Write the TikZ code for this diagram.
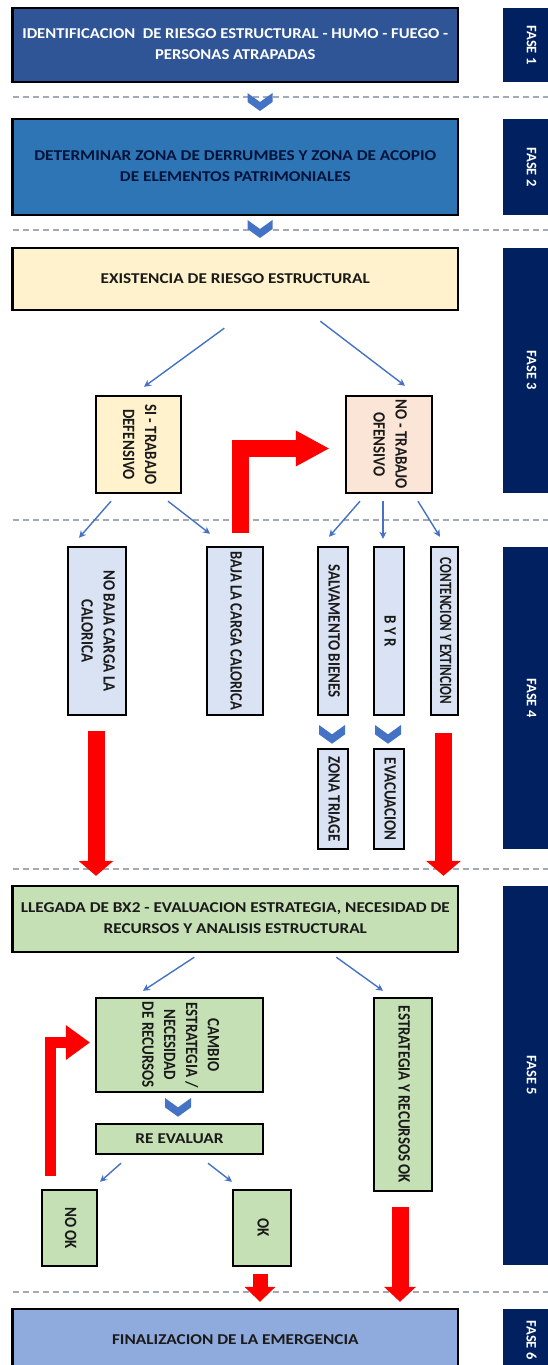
\documentclass[tikz,border=0pt]{standalone}
\usepackage{fontspec}
\setmainfont{Carlito}
\usetikzlibrary{arrows.meta,calc}
\definecolor{fasenavy}{HTML}{002060}
\definecolor{darkbox}{HTML}{2F5597}
\definecolor{midbox}{HTML}{2E75B6}
\definecolor{yelbox}{HTML}{FFF2CC}
\definecolor{peachbox}{HTML}{FBE5D6}
\definecolor{greybox}{HTML}{DAE3F3}
\definecolor{greenbox}{HTML}{C5E0B4}
\definecolor{endbox}{HTML}{8FAADC}
\definecolor{linkblue}{HTML}{4472C4}
\definecolor{sepgrey}{HTML}{A3A9B5}
\definecolor{txt}{HTML}{1A1A1A}
\newcommand\hlab[2][1.15]{\scalebox{#1}[1]{\begin{tabular}{@{}c@{}}#2\end{tabular}}}
\newcommand\vlab[2][1]{\rotatebox{-90}{\scalebox{#1}[1.15]{\begin{tabular}{@{}c@{}}#2\end{tabular}}}}

\begin{document}
\begin{tikzpicture}[x=1pt,y=-1pt,
  box/.style={draw=black,line width=2.4pt,inner sep=0pt,align=center,
    text=txt,font=\bfseries\fontsize{15}{21}\selectfont},
  vbox/.style={box,font=\bfseries\fontsize{15}{19}\selectfont},
  fase/.style={fill=fasenavy,inner sep=0pt,text=white,
    font=\bfseries\fontsize{14.5}{16}\selectfont},
  conn/.style={draw=linkblue,line width=1.4pt,-{Stealth[length=7pt,width=7pt]}},
  redarr/.style={draw=red,line width=17pt},
  sep/.style={draw=sepgrey,line width=1.3pt,dash pattern=on 6pt off 4pt},
  chevc/.style={fill=linkblue}]
	\useasboundingbox (0,0) rectangle (548,1365);
	\def\chev(#1,#2)#3{\fill[chevc] (#1-#3/2,#2) -- (#1,#2+#3*0.36) -- (#1+#3/2,#2)
		-- (#1+#3/2,#2+#3*0.36) -- (#1,#2+#3*0.72) -- (#1-#3/2,#2+#3*0.36) -- cycle;}
	\def\wide{445.4}

	% separators between the phases
	\foreach \y in {97,230,520,869,1292}
		\draw[sep] (12.6,\y) -- (548,\y);

	% phase labels
	\node[fase,minimum width=57pt,minimum height=74pt]  (f1) at (531.5,45)    {\rotatebox{-90}{FASE 1}};
	\node[fase,minimum width=57pt,minimum height=96pt]  (f2) at (531.5,167)   {\rotatebox{-90}{FASE 2}};
	\node[fase,minimum width=57pt,minimum height=245pt] (f3) at (531.5,370.5) {\rotatebox{-90}{FASE 3}};
	\node[fase,minimum width=57pt,minimum height=302pt] (f4) at (531.5,698)   {\rotatebox{-90}{FASE 4}};
	\node[fase,minimum width=57pt,minimum height=379pt] (f5) at (531.5,1075.5){\rotatebox{-90}{FASE 5}};
	\node[fase,minimum width=57pt,minimum height=62pt]  (f6) at (531.5,1340)  {\rotatebox{-90}{FASE 6}};

	% phase 1 - 3
	\node[box,fill=darkbox,text=white,minimum width=\wide pt,minimum height=74pt] (ident) at (235.3,45)
		{\hlab[1.11]{IDENTIFICACION \ DE RIESGO ESTRUCTURAL - HUMO - FUEGO -\\PERSONAS ATRAPADAS}};
	\node[box,fill=midbox,text=fasenavy!60!black,minimum width=\wide pt,minimum height=96pt] (zona) at (235.3,167)
		{\hlab{DETERMINAR ZONA DE DERRUMBES Y ZONA DE ACOPIO\\DE ELEMENTOS PATRIMONIALES}};
	\node[box,fill=yelbox,minimum width=\wide pt,minimum height=62pt] (riesgo) at (235.3,279)
		{\hlab{EXISTENCIA DE RIESGO ESTRUCTURAL}};
	\node[vbox,fill=yelbox,minimum width=85pt,minimum height=97pt] (si) at (138.5,444.5)
		{\vlab{SI - TRABAJO\\DEFENSIVO}};
	\node[vbox,fill=peachbox,minimum width=86pt,minimum height=97pt] (no) at (389,444.5)
		{\vlab{NO - TRABAJO\\OFENSIVO}};

	% phase 4
	\node[vbox,fill=greybox,minimum width=58pt,minimum height=168pt] (nobaja) at (97,631)
		{\vlab{NO BAJA CARGA LA\\CALORICA}};
	\node[vbox,fill=greybox,minimum width=56pt,minimum height=168pt] (baja) at (235,631)
		{\vlab[0.97]{BAJA LA CARGA CALORICA}};
	\node[vbox,fill=greybox,minimum width=30pt,minimum height=168pt] (salv) at (333,631)
		{\vlab{SALVAMENTO BIENES}};
	\node[vbox,fill=greybox,minimum width=30pt,minimum height=168pt] (byr) at (389,631)
		{\vlab{B Y R}};
	\node[vbox,fill=greybox,minimum width=27pt,minimum height=168pt] (cont) at (444.5,631)
		{\vlab[0.87]{CONTENCION Y EXTINCION}};
	\node[vbox,fill=greybox,minimum width=30pt,minimum height=100pt] (triage) at (333,799)
		{\vlab{ZONA TRIAGE}};
	\node[vbox,fill=greybox,minimum width=30pt,minimum height=100pt] (evac) at (389,799)
		{\vlab{EVACUACION}};

	% phase 5 - 6
	\node[box,fill=greenbox,minimum width=\wide pt,minimum height=66pt] (bx2) at (235.3,919)
		{\hlab{LLEGADA DE BX2 - EVALUACION ESTRATEGIA, NECESIDAD DE\\RECURSOS Y ANALISIS ESTRUCTURAL}};
	\node[vbox,fill=greenbox,minimum width=167pt,minimum height=94pt] (cambio) at (179.5,1045)
		{\vlab{CAMBIO\\ESTRATEGIA /\\NECESIDAD\\DE RECURSOS}};
	\node[vbox,fill=greenbox,minimum width=58pt,minimum height=193pt] (estok) at (403,1094.5)
		{\vlab{ESTRATEGIA Y RECURSOS OK}};
	\node[box,fill=greenbox,minimum width=167pt,minimum height=30pt] (reeval) at (179.5,1139)
		{\hlab{RE EVALUAR}};
	\node[vbox,fill=greenbox,minimum width=55pt,minimum height=76pt] (nook) at (69.5,1228)
		{\vlab{NO OK}};
	\node[vbox,fill=greenbox,minimum width=58pt,minimum height=76pt] (ok) at (262,1228)
		{\vlab{OK}};
	\node[box,fill=endbox,minimum width=\wide pt,minimum height=62pt] (fin) at (235.3,1340)
		{\hlab{FINALIZACION DE LA EMERGENCIA}};

	% chevrons
	\chev(260,93){25}
	\chev(260,220){25}
	\chev(332,725){26}
	\chev(388,725){26}
	\chev(178,1098){26}

	% thin links
	\draw[conn] ($(riesgo.south)+(-11,17)$) -- ($(si.north)+(5.5,-8)$);
	\draw[conn] ($(riesgo.south)+(85,10)$) -- ($(no.north)+(16,-9)$);
	\draw[conn] ($(si.south)+(-27.5,7)$) -- ($(nobaja.north)+(-18,-8)$);
	\draw[conn] ($(si.south)+(29.5,7)$) -- ($(baja.north)+(-25,-12)$);
	\draw[conn] ($(no.south)+(-29,7)$) -- ($(salv.north)+(-4,-9)$);
	\draw[conn] ($(no.south)+(-6,7)$) -- ($(byr.north)+(-6,-7)$);
	\draw[conn] ($(no.south)+(29,7)$) -- ($(cont.north)+(-4.5,-9)$);
	\draw[conn] ($(bx2.south)+(-41,4)$) -- ($(cambio.north)+(-36.5,-6)$);
	\draw[conn] ($(bx2.south)+(101,4)$) -- ($(estok.north)+(-20,-6)$);
	\draw[conn] ($(reeval.south)+(-58.5,8)$) -- ($(nook.north)+(30.5,-7)$);
	\draw[conn] ($(reeval.south)+(28.5,8)$) -- ($(ok.north)+(-30,-7)$);

	% red block arrows
	\draw[redarr,-{Triangle[length=33pt,width=36pt,line width=0pt]}]
		($(baja.north)+(5,-13)$) |- ($(no.west)+(-16,4)$);
	\draw[redarr,line width=11pt,-{Triangle[length=24pt,width=35pt,line width=0pt]}]
		($(nook.north)+(-19,-13)$) |- ($(cambio.west)+(-5,-2.5)$);
	\draw[redarr,-{Triangle[length=15pt,width=35pt,line width=0pt]}]
		($(nobaja.south)+(-1,15)$) -- ($(nobaja.south |- bx2.north)+(-1,-9)$);
	\draw[redarr,-{Triangle[length=15pt,width=35pt,line width=0pt]}]
		($(cont.south)+(-1,17)$) -- ($(cont.south |- bx2.north)+(-1,-9)$);
	\draw[redarr,line width=15pt,-{Triangle[length=15pt,width=31pt,line width=0pt]}]
		($(ok.south)+(-2,7)$) -- ($(ok.south |- fin.north)+(-2,-6)$);
	\draw[redarr,-{Triangle[length=15pt,width=32pt,line width=0pt]}]
		($(estok.south)+(-3,15)$) -- ($(estok.south |- fin.north)+(-3,-6)$);
\end{tikzpicture}
\end{document}
